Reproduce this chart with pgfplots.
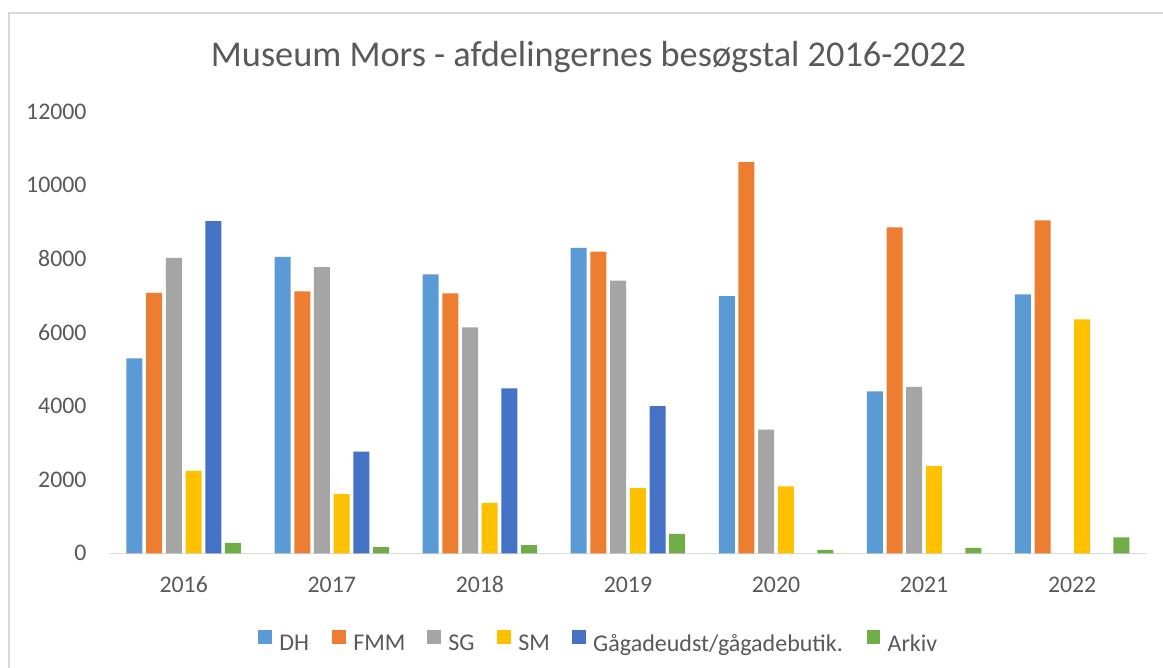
\documentclass[border=0pt]{standalone}
\usepackage{fontspec}
\setmainfont{Carlito}
\usepackage{pgfplots}
\pgfplotsset{compat=1.18}
\definecolor{cDH}{HTML}{5B9BD5}
\definecolor{cFMM}{HTML}{ED7D31}
\definecolor{cSG}{HTML}{A5A5A5}
\definecolor{cSM}{HTML}{FFC000}
\definecolor{cGag}{HTML}{4472C4}
\definecolor{cArk}{HTML}{70AD47}
\definecolor{cText}{HTML}{595959}
\definecolor{cAxis}{HTML}{D9D9D9}
\begin{document}
\begin{tikzpicture}[x=1pt,y=1pt]
\useasboundingbox (0,0) rectangle (1163,668);
\fill[white] (0,0) rectangle (1163,668);
\draw[color=cAxis, line width=1.5pt] (9,0) -- (9,655) -- (1163,655);
\node[anchor=base, font=\fontsize{36.3}{42}\selectfont, text=cText, inner sep=0pt] at (588.5,601.3) {Museum Mors - afdelingernes besøgstal 2016-2022};
\begin{axis}[
  at={(109.7pt,114.7pt)}, anchor=south west,
  scale only axis, width=1036.6pt, height=441.5pt,
  xmin=-0.5, xmax=6.5, ymin=0, ymax=12000,
  ybar=3.7pt, bar width=16pt,
  legend image code/.code={\fill[#1] (0pt,0pt) rectangle (13.4pt,13.4pt);},
  xtick={0,1,2,3,4,5,6},
  xticklabels={2016,2017,2018,2019,2020,2021,2022},
  ytick={0,2000,4000,6000,8000,10000,12000},
  scaled y ticks=false,
  /pgf/number format/1000 sep={},
  /pgf/number format/assume math mode=true,
  axis x line*=bottom, axis y line*=left,
  y axis line style={draw=none},
  x axis line style={draw=cAxis, line width=1.5pt},
  major tick length=0pt,
  tick label style={font=\fontsize{23.8}{28}\selectfont, text=cText},
  xticklabel style={anchor=base, inner sep=0pt, yshift=-39.3pt},
  yticklabel style={anchor=base east, inner sep=0pt, xshift=-23pt, yshift=-7.6pt},
  legend columns=6,
  legend style={at={(0.4701,-0.2005)}, anchor=center, draw=none, fill=none,
    font=\fontsize{24}{28}\selectfont, text=cText, inner sep=0pt,
    nodes={inner sep=0pt},
    /tikz/every odd column/.append style={column sep=7.6pt},
    /tikz/every even column/.append style={column sep=0pt}},
]
\addplot[fill=cDH, draw=none] coordinates {(0,5300) (1,8060) (2,7580) (3,8300) (4,6990) (5,4400) (6,7040)};
\addplot[fill=cFMM, draw=none] coordinates {(0,7080) (1,7120) (2,7065) (3,8200) (4,10630) (5,8860) (6,9050)};
\addplot[fill=cSG, draw=none] coordinates {(0,8030) (1,7780) (2,6140) (3,7410) (4,3360) (5,4520)};
\addplot[fill=cSM, draw=none] coordinates {(0,2240) (1,1610) (2,1370) (3,1770) (4,1820) (5,2370) (6,6360)};
\addplot[fill=cGag, draw=none] coordinates {(0,9030) (1,2760) (2,4480) (3,4000)};
\addplot[fill=cArk, draw=none] coordinates {(0,280) (1,165) (2,225) (3,530) (4,90) (5,145) (6,435)};
\legend{\makebox[53pt][l]{DH},\makebox[74pt][l]{FMM},\makebox[49pt][l]{SG},\makebox[54pt][l]{SM},\makebox[273.4pt][l]{Gågadeudst/gågadebutik.},\makebox[48pt][l]{Arkiv}}
\end{axis}
\end{tikzpicture}
\end{document}
